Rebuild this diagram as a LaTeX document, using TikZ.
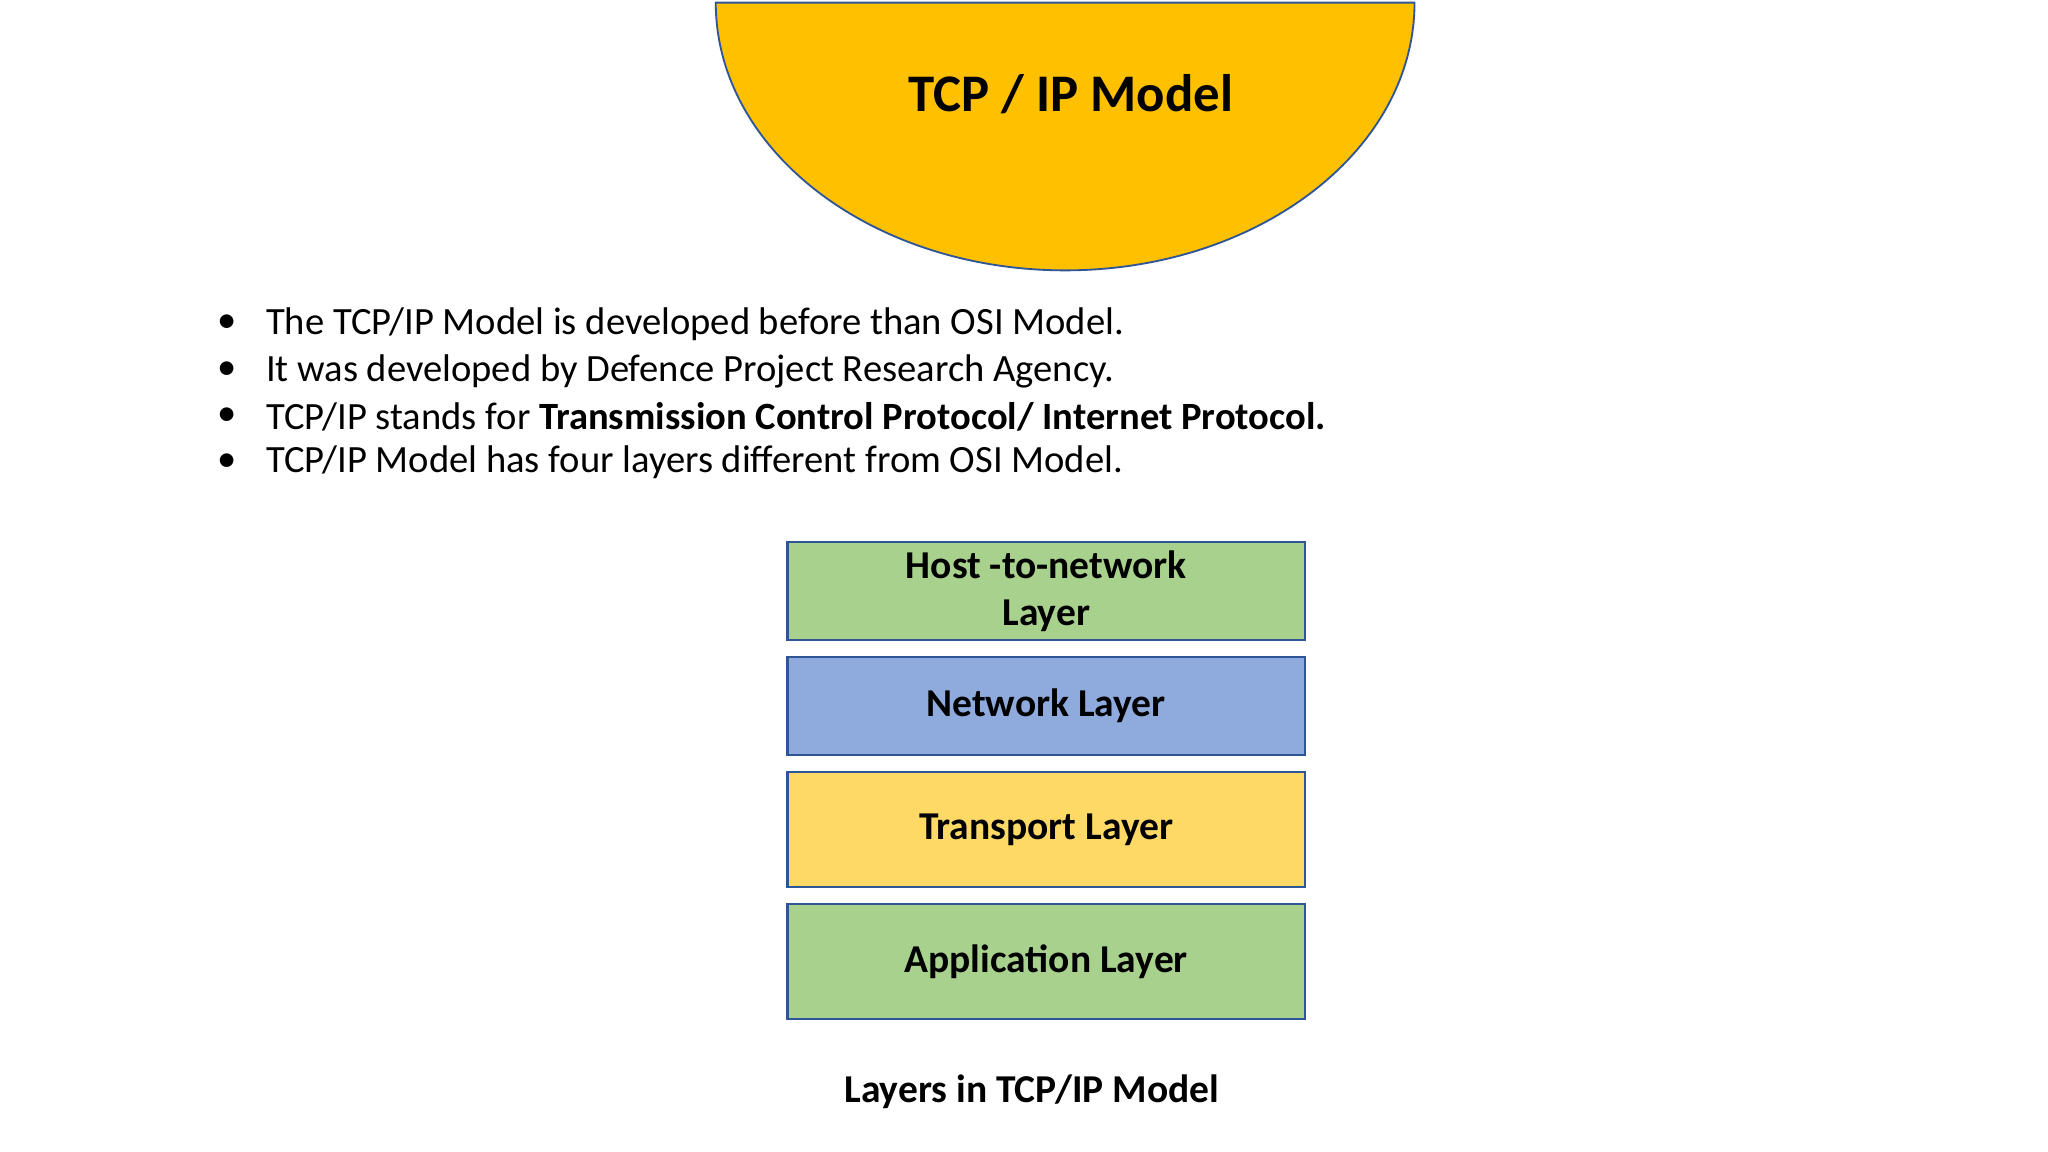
\documentclass[tikz,border=0pt]{standalone}
\usepackage{fontspec}
\setmainfont{Carlito}
\definecolor{gold}{HTML}{FFC000}
\definecolor{edge}{HTML}{2F5597}
\definecolor{lgreen}{HTML}{A9D18E}
\definecolor{lblue}{HTML}{8FAADC}
\definecolor{lyellow}{HTML}{FFD966}
\begin{document}
\begin{tikzpicture}[x=0.01cm,y=-0.01cm,
  layer/.style={draw=edge,line width=0.5pt,minimum width=3.96cm,font=\fontsize{8.6}{10.3}\selectfont\bfseries,align=center,inner sep=0pt},
  btxt/.style={anchor=west,font=\fontsize{8.4}{10}\selectfont,inner sep=0pt}]
\useasboundingbox (0,0) rectangle (1568,882);
\fill[white] (0,0) rectangle (1568,882);
\draw[edge,fill=gold,line width=0.4pt] (548,2) arc[start angle=180,end angle=360,x radius=267.5,y radius=-205] -- cycle;
\node[font=\fontsize{11.5}{13}\selectfont\bfseries] (title) at (820,72) {TCP / IP Model};
\foreach \y/\t [count=\i] in {248/{The TCP/IP Model is developed before than OSI Model.},
  284/{It was developed by Defence Project Research Agency.},
  319/{TCP/IP stands for \textbf{Transmission Control Protocol/ Internet Protocol.}},
  354/{TCP/IP Model has four layers different from OSI Model.}}{
  \node[btxt] (d\i) at (166,\y) {\textbullet};
  \node[btxt] (b\i) at (203,\y) {\t};
}
\node[layer,fill=lgreen,minimum height=0.75cm] (h) at (801,452.5) {Host -to-network\\Layer};
\node[layer,fill=lblue,minimum height=0.75cm] (n) at (801,540.5) {Network Layer};
\node[layer,fill=lyellow,minimum height=0.88cm] (t) at (801,635) {Transport Layer};
\node[layer,fill=lgreen,minimum height=0.88cm] (a) at (801,736) {Application Layer};
\node[font=\fontsize{8.6}{10}\selectfont\bfseries] (cap) at (790,836) {Layers in TCP/IP Model};
\end{tikzpicture}
\end{document}
